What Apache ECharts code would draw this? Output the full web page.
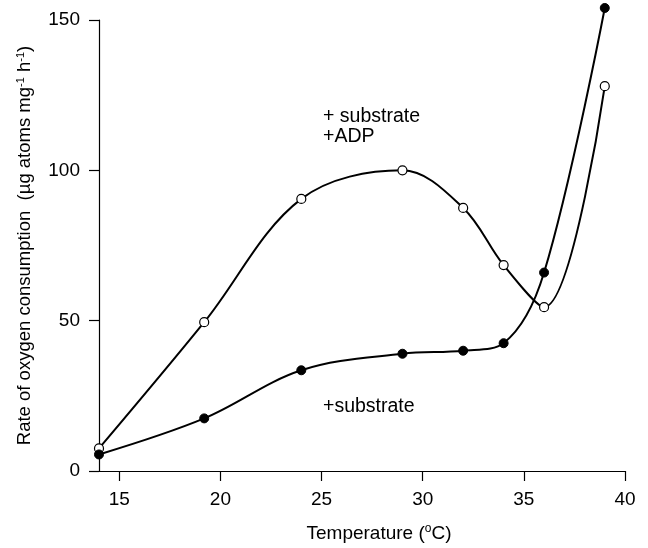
<!DOCTYPE html>
<html>
<head>
<meta charset="utf-8">
<script src="https://cdn.jsdelivr.net/npm/echarts@6/dist/echarts.min.js"></script>
<style>
  html, body { margin: 0; padding: 0; background: #fff; }
  #main { width: 648px; height: 548px; }
</style>
</head>
<body>
<div id="main"></div>
<script>
// temperatures (°C) at which rates were measured
const temps = [14, 19.2, 24, 29, 32, 34, 36, 39];
// + substrate + ADP (open circles)
const withADP = [7.5, 49.5, 90.5, 100, 87.5, 68.5, 54.5, 128];
// + substrate only (filled circles)
const substrateOnly = [5.5, 17.5, 33.5, 39, 40, 42.5, 66, 154];
const xTicks = [15, 20, 25, 30, 35, 40];

const font = '"Liberation Sans", Arial, sans-serif';

const pairs = (xs, ys) => xs.map((x, i) => [x, ys[i]]);

var chart = echarts.init(document.getElementById('main'));
chart.setOption({
    animation: false,
    backgroundColor: '#fff',
    grid: { left: 99, right: 23, top: 20, bottom: 75 },
    xAxis: {
        type: 'value',
        min: 14,
        max: 40,
        splitLine: { show: false },
        axisLine: { lineStyle: { color: '#000', width: 1.2 } },
        axisTick: { customValues: xTicks, length: 10, lineStyle: { color: '#000', width: 1.2 } },
        axisLabel: { customValues: xTicks, color: '#000', fontSize: 19, fontFamily: font, margin: 19 },
        name: 'Temperature ({sup|o}C)',
        nameLocation: 'middle',
        nameGap: 52,
        nameTextStyle: {
            color: '#000', fontSize: 19, fontFamily: font,
            padding: [0, 0, 0, 34],
            rich: { sup: { fontSize: 12, padding: [0, 0, 9, 0], fontFamily: font } }
        }
    },
    yAxis: {
        type: 'value',
        min: 0,
        max: 150,
        interval: 50,
        splitLine: { show: false },
        axisLine: { show: true, lineStyle: { color: '#000', width: 1.2 } },
        axisTick: { show: true, length: 10, lineStyle: { color: '#000', width: 1.2 } },
        axisLabel: { color: '#000', fontSize: 19, fontFamily: font, margin: 19 },
        name: 'Rate of oxygen consumption  (\u00b5g atoms mg{sup|-1} h{sup|-1})',
        nameLocation: 'middle',
        nameGap: 64,
        nameTextStyle: {
            color: '#000', fontSize: 18.5, fontFamily: font,
            rich: { sup: { fontSize: 11, padding: [0, 0, 9, 0], fontFamily: font } }
        }
    },
    series: [
        {
            name: '+ substrate +ADP',
            type: 'line',
            data: pairs(temps, withADP),
            smooth: 0.35,
            clip: false,
            symbol: 'circle',
            symbolSize: 9,
            itemStyle: { color: '#fff', borderColor: '#000', borderWidth: 1.2 },
            lineStyle: { color: '#000', width: 2 },
            z: 3
        },
        {
            name: '+substrate',
            type: 'line',
            data: pairs(temps, substrateOnly),
            smooth: 0.35,
            clip: false,
            symbol: 'circle',
            symbolSize: 9,
            itemStyle: { color: '#000', borderColor: '#000' },
            lineStyle: { color: '#000', width: 2 },
            z: 3
        }
    ],
    graphic: [
        { type: 'text', left: 323, top: 107, style: { text: '+ substrate\n+ADP', fontSize: 19.5, lineHeight: 20, fontFamily: font, fill: '#000' } },
        { type: 'text', left: 323, top: 397, style: { text: '+substrate', fontSize: 19.5, fontFamily: font, fill: '#000' } }
    ]
});
</script>
</body>
</html>
